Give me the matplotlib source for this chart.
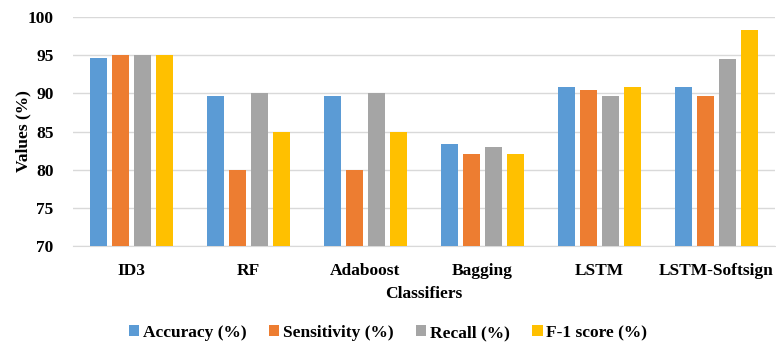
import numpy as np
import matplotlib
matplotlib.use("Agg")
import matplotlib.pyplot as plt

plt.rcParams['font.family'] = ['Liberation Serif', 'DejaVu Serif']
plt.rcParams['font.weight'] = 'bold'

classifiers = ["ID3", "RF", "Adaboost", "Bagging", "LSTM", "LSTM-Softsign"]
accuracy = [94.6, 89.6, 89.7, 83.4, 90.8, 90.8]
sensitivity = [95.0, 80.0, 80.0, 82.0, 90.5, 89.7]
recall = [95.0, 90.0, 90.0, 83.0, 89.6, 94.5]
f1_score = [95.0, 85.0, 85.0, 82.0, 90.8, 98.3]

series = [
    ("Accuracy (%)", accuracy, "#5b9bd5"),
    ("Sensitivity (%)", sensitivity, "#ed7d31"),
    ("Recall (%)", recall, "#a5a5a5"),
    ("F-1 score (%)", f1_score, "#ffc000"),
]

fig = plt.figure(figsize=(7.76, 3.42), dpi=100)
ax = fig.add_axes([73 / 776, 1 - 246 / 342, 702 / 776, 229 / 342])

x = np.arange(len(classifiers))
step = 0.186
width = 0.143
for i, (name, vals, col) in enumerate(series):
    ax.bar(x + (i - 1.5) * step, np.array(vals) - 70, width, bottom=70,
           color=col, label=name, zorder=3)

ax.set_xlim(-0.5, len(classifiers) - 0.5)
ax.set_ylim(70, 100)
ax.set_yticks(range(70, 101, 5))
ax.set_xticks(x)
ax.set_xticklabels(classifiers, fontsize=12.5, fontweight='bold')
ax.tick_params(axis='y', labelsize=12.5, length=0, pad=14)
ax.tick_params(axis='x', length=0, pad=12)
ax.grid(axis='y', color='#d9d9d9', lw=1, zorder=0)
for s in ['top', 'right', 'left']:
    ax.spines[s].set_visible(False)
ax.spines['bottom'].set_color('#d9d9d9')

ax.set_ylabel("Values (%)", fontsize=12.5, fontweight='bold', labelpad=-3)
ax.set_xlabel("Classifiers", fontsize=12.5, fontweight='bold', labelpad=5)

fig.legend(loc='center', bbox_to_anchor=(0.5, 1 - 333 / 342), ncol=4, frameon=False,
           fontsize=12.5, handlelength=0.6, handleheight=0.6, handletextpad=0.2,
           columnspacing=1.3)

fig.savefig("out.png", dpi=100)
